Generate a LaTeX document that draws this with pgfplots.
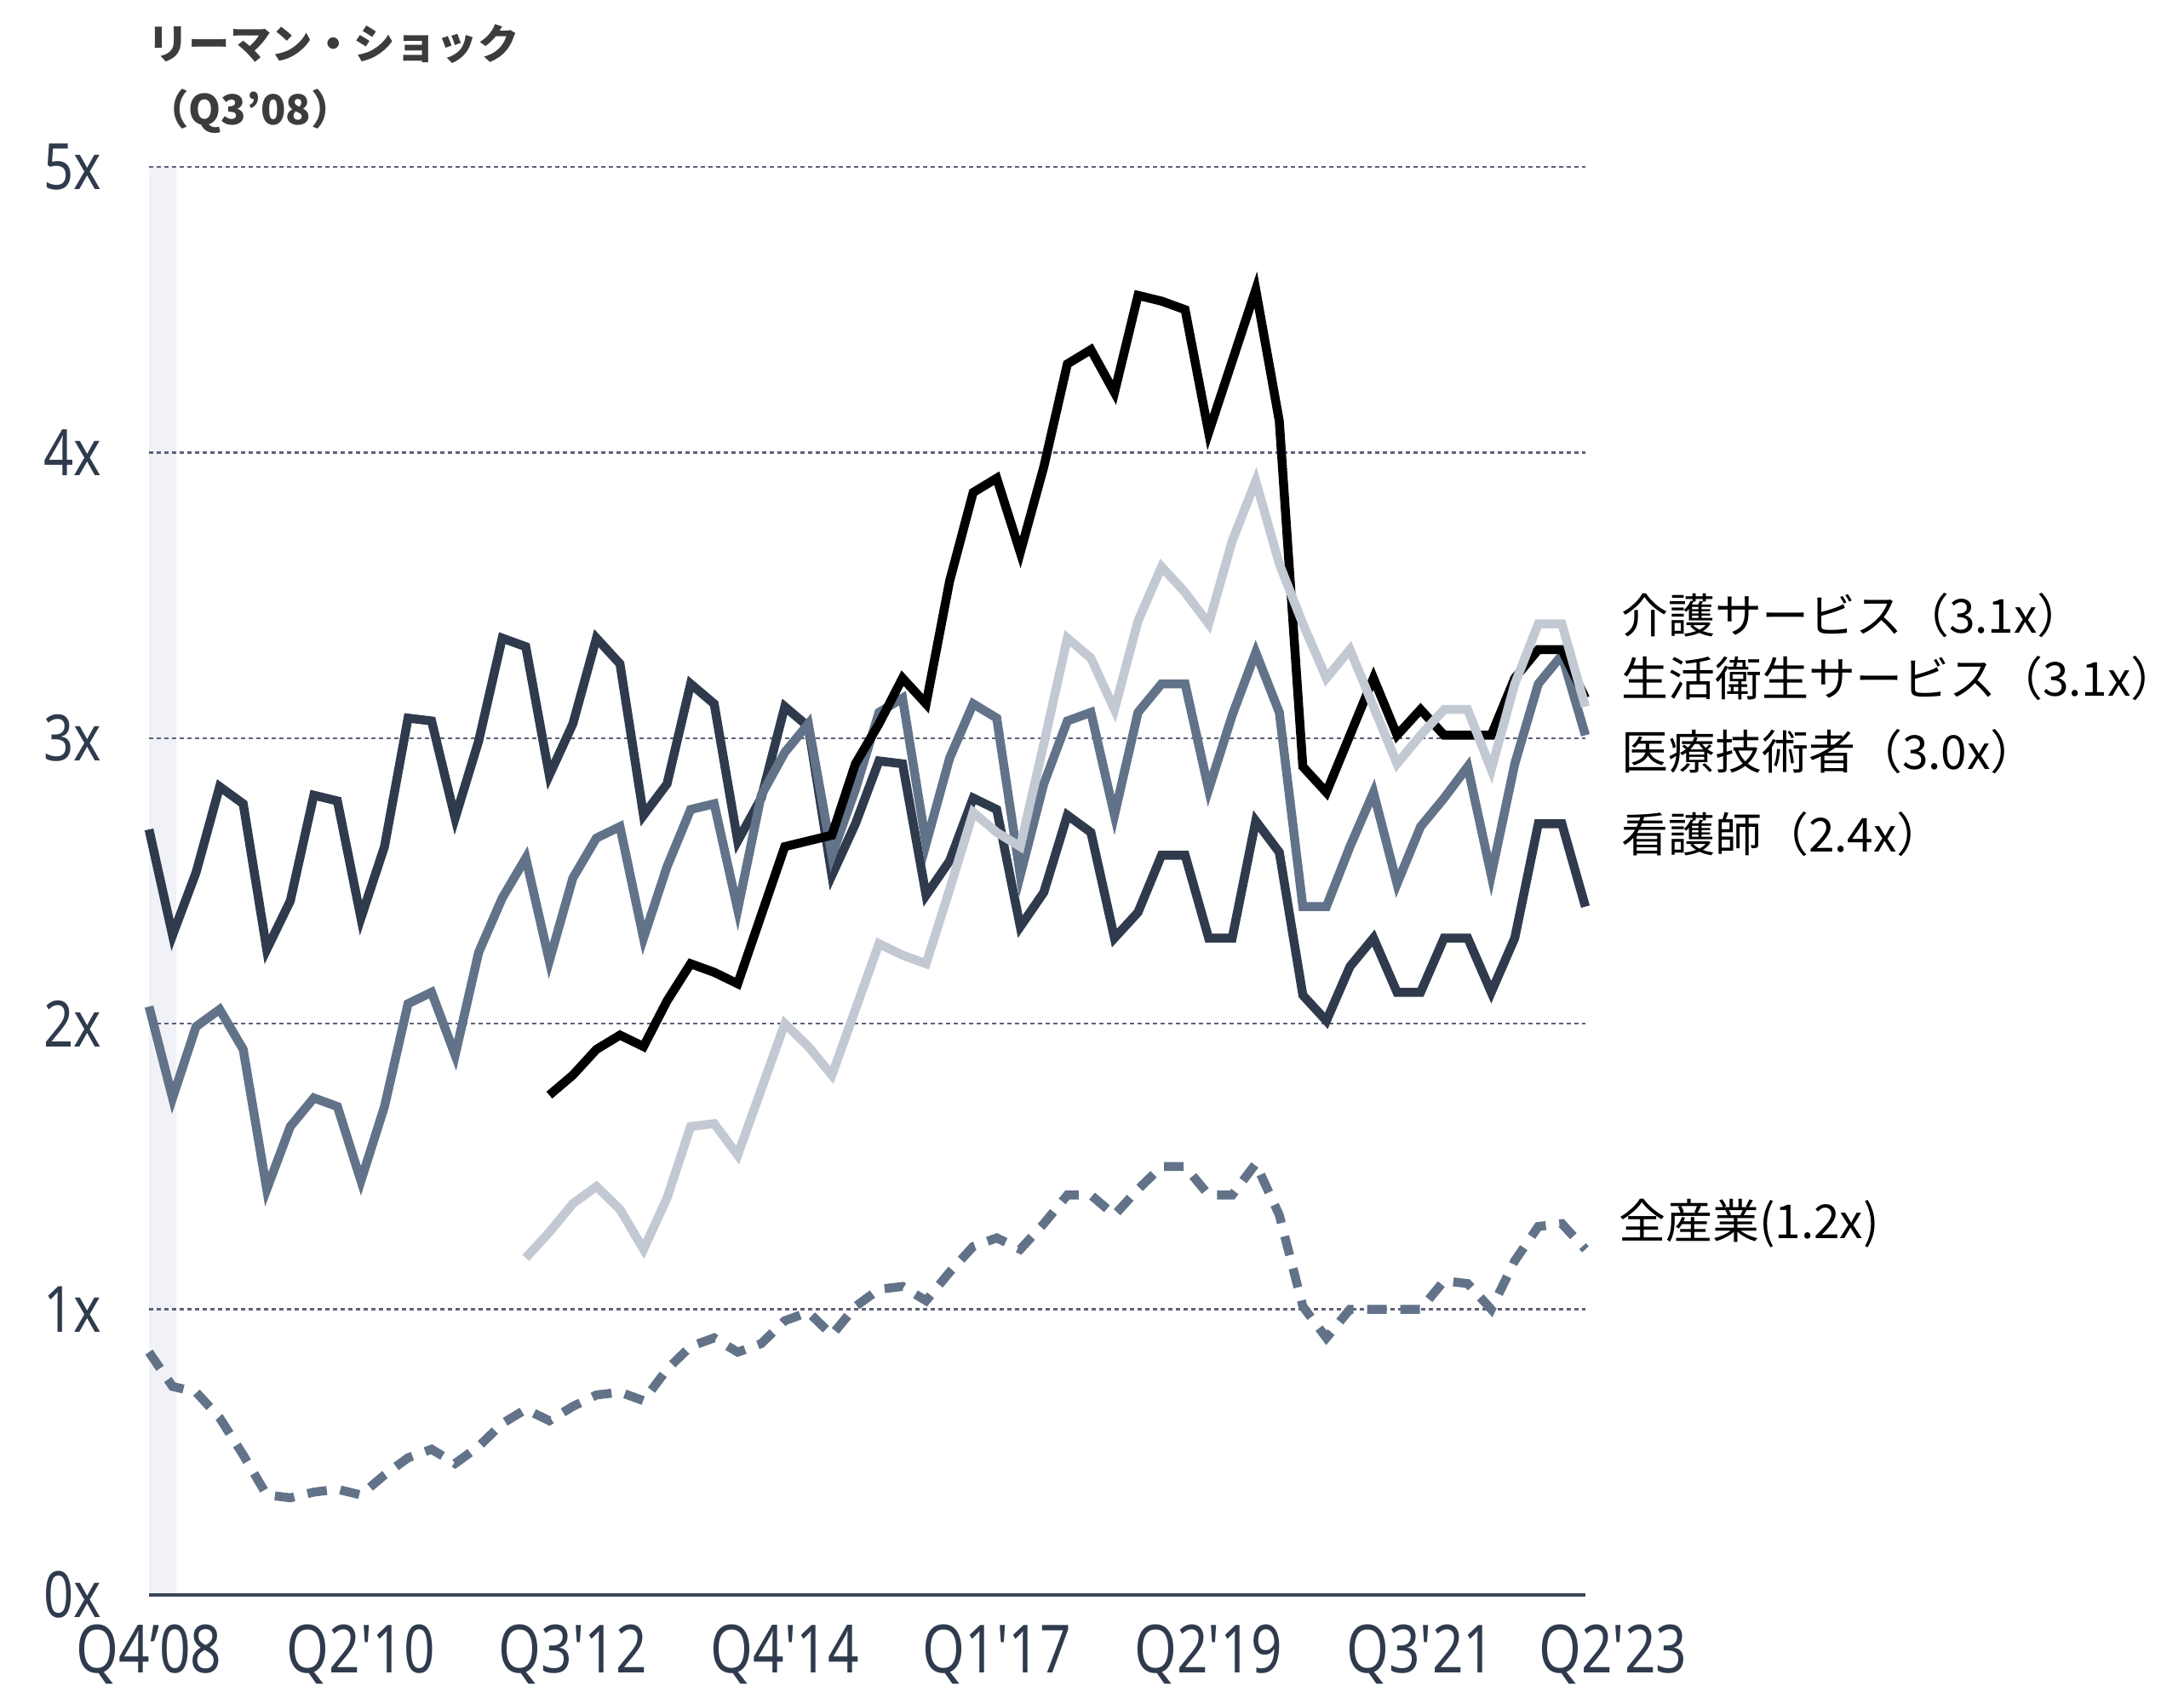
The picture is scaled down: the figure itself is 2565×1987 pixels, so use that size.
\documentclass[border=0pt]{standalone}
\usepackage{pgfplots}
\usepackage{pgfplotstable}
\pgfplotsset{compat=1.18}
\usepackage{fontspec}
\newfontfamily\tickfont{Noto Sans}[FakeStretch=0.82,Ligatures=TeXOff]
\newfontfamily\jp{Noto Sans CJK JP}

\definecolor{navy}{HTML}{2F3B4D}
\definecolor{slate}{HTML}{627389}
\definecolor{lgray}{HTML}{C3C9D2}
\definecolor{gridc}{HTML}{5B6178}
\definecolor{band}{HTML}{F1F2F7}
\definecolor{axc}{HTML}{3A4558}
\definecolor{notec}{HTML}{3C3C3C}

% quarters as index 0..61
\pgfplotstableread{
i nurse med all
0 2.68 2.06 0.85
1 2.31 1.74 0.73
2 2.53 1.99 0.71
3 2.83 2.05 0.62
4 2.77 1.91 0.49
5 2.26 1.42 0.35
6 2.43 1.64 0.34
7 2.80 1.74 0.36
8 2.78 1.71 0.37
9 2.37 1.45 0.35
10 2.62 1.71 0.42
11 3.07 2.07 0.48
12 3.06 2.11 0.51
13 2.72 1.89 0.46
14 2.99 2.25 0.52
15 3.35 2.44 0.60
16 3.32 2.58 0.65
17 2.87 2.22 0.61
18 3.05 2.51 0.66
19 3.35 2.65 0.70
20 3.26 2.69 0.71
21 2.73 2.30 0.68
22 2.84 2.55 0.79
23 3.19 2.75 0.87
24 3.12 2.77 0.90
25 2.64 2.40 0.85
26 2.79 2.80 0.88
27 3.11 2.95 0.96
28 3.04 3.05 0.99
29 2.52 2.59 0.91
30 2.70 2.82 1.01
31 2.92 3.09 1.07
32 2.91 3.14 1.08
33 2.45 2.63 1.03
34 2.57 2.93 1.13
35 2.79 3.12 1.22
36 2.75 3.07 1.25
37 2.34 2.52 1.21
38 2.46 2.84 1.30
39 2.73 3.06 1.40
40 2.67 3.09 1.40
41 2.30 2.73 1.33
42 2.39 3.09 1.42
43 2.59 3.19 1.50
44 2.59 3.19 1.50
45 2.30 2.82 1.40
46 2.30 3.08 1.40
47 2.71 3.30 1.51
48 2.60 3.09 1.33
49 2.10 2.41 1.01
50 2.01 2.41 0.90
51 2.20 2.62 1.00
52 2.30 2.81 1.00
53 2.11 2.49 1.00
54 2.11 2.69 1.00
55 2.30 2.79 1.10
56 2.30 2.90 1.09
57 2.11 2.52 1.00
58 2.30 2.91 1.17
59 2.70 3.19 1.29
60 2.70 3.29 1.30
61 2.41 3.01 1.21
}\main

\pgfplotstableread{
i care
17 1.75
18 1.82
19 1.91
20 1.96
21 1.92
22 2.08
23 2.21
24 2.18
25 2.14
26 2.38
27 2.62
28 2.64
29 2.66
30 2.91
31 3.05
32 3.21
33 3.12
34 3.55
35 3.86
36 3.91
37 3.65
38 3.95
39 4.31
40 4.36
41 4.21
42 4.55
43 4.53
44 4.50
45 4.07
46 4.32
47 4.57
48 4.11
49 2.90
50 2.81
51 3.01
52 3.21
53 3.01
54 3.10
55 3.01
56 3.01
57 3.01
58 3.21
59 3.31
60 3.31
61 3.14
}\care

\pgfplotstableread{
i hyg
16 1.18
17 1.27
18 1.37
19 1.43
20 1.35
21 1.21
22 1.39
23 1.64
24 1.65
25 1.54
26 1.77
27 2.00
28 1.92
29 1.82
30 2.05
31 2.28
32 2.24
33 2.21
34 2.47
35 2.74
36 2.67
37 2.62
38 2.98
39 3.35
40 3.28
41 3.10
42 3.41
43 3.60
44 3.51
45 3.40
46 3.69
47 3.90
48 3.61
49 3.40
50 3.21
51 3.31
52 3.11
53 2.91
54 3.01
55 3.10
56 3.10
57 2.89
58 3.19
59 3.40
60 3.40
61 3.11
}\hyg

\begin{document}
\begin{tikzpicture}[x=0.2pt,y=0.2pt]
\begin{axis}[
  set layers,
  at={(35pt,22.8pt)}, anchor=south west,
  scale only axis, width=337.4pt, height=335.4pt,
  xmin=0, xmax=61, ymin=0, ymax=5,
  clip=false,
  axis x line*=bottom, axis y line*=left,
  x axis line style={-, color=axc, line width=0.8pt},
  y axis line style={draw=none},
  xtick={0,9,18,27,36,45,54},
  xticklabels={Q4’08,Q2'10,Q3'12,Q4'14,Q1'17,Q2'19,Q3'21},
  extra x ticks={61},
  extra x tick labels={Q2'23},
  extra x tick style={xticklabel style={xshift=6.5pt}, major tick length=0pt},
  ytick={0,1,2,3,4,5},
  yticklabels={0x,1x,2x,3x,4x,5x},
  major tick length=0pt,
  xticklabel style={font=\tickfont\fontsize{15.6}{15.6}\selectfont, color=navy, anchor=base, yshift=-18.4pt},
  yticklabel style={font=\tickfont\fontsize{15}{15}\selectfont, color=navy, anchor=east, inner sep=0pt, xshift=-11pt},
  ymajorgrids,
  major grid style={color=gridc, line width=0.5pt, dash pattern=on 0.9pt off 0.9pt},
  every axis plot/.append style={line width=2.1pt, line join=miter},
]
\addplot[fill=band, draw=none, line width=0pt, on layer=axis background] coordinates {(0,0) (0,5) (1.16,5) (1.16,0)} \closedcycle;
\addplot[slate, dash pattern=on 4.6pt off 3.2pt] table[x=i, y=all] {\main};
\addplot[navy] table[x=i, y=nurse] {\main};
\addplot[slate] table[x=i, y=med] {\main};
\addplot[black] table[x=i, y=care] {\care};
\addplot[lgray] table[x=i, y=hyg] {\hyg};
\end{axis}
% Lehman shock note
\node[anchor=base west, inner sep=0pt, text=notec, font=\jp\bfseries\fontsize{9.7}{9.7}\selectfont] at (172,1917) {リーマン・ショック};
\node[anchor=base west, inner sep=0pt, text=notec, font=\jp\bfseries\fontsize{9.7}{9.7}\selectfont] at (172,1840) {（Q3’08）};
% series labels
\begin{scope}[every node/.style={anchor=base west, inner sep=0pt, font=\jp\fontsize{11}{11}\selectfont}]
\node at (1903,1243) {介護サービス（3.1x）};
\node at (1903,1169) {生活衛生サービス（3.1x）};
\node at (1903,1083) {医療技術者（3.0x）};
\node at (1903,986) {看護師（2.4x）};
\node at (1900,532) {全産業(1.2x)};
\end{scope}
\pgfresetboundingbox
\path[use as bounding box] (0,0) rectangle (2565,1987);
\end{tikzpicture}
\end{document}
